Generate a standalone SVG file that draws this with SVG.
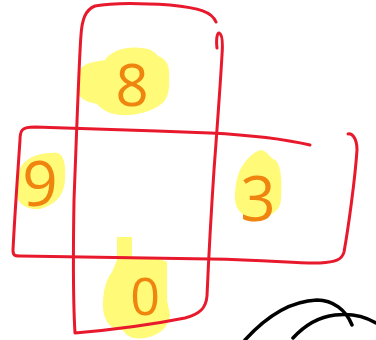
<svg xmlns="http://www.w3.org/2000/svg" width="376" height="340" viewBox="0 0 376 340">
<style>
.hl{fill:#fffa78;stroke:none}
.red{fill:none;stroke:#e8192c;stroke-width:3;stroke-linecap:round;stroke-linejoin:round}
.blk{fill:none;stroke:#000;stroke-width:3.5;stroke-linecap:round}
.dg{fill:#ef850f;font-family:"Open Sans","Liberation Sans",sans-serif;font-weight:400;text-anchor:middle}
</style>
<rect width="376" height="340" fill="#fff"/>
<g id="highlights">
<path class="hl" d="M80,70 C85,62 95,62 105,60 C110,52 125,46 140,48 C150,48 155,52 158,56 C165,58 170,65 169,75 C170,90 168,100 160,105 C150,112 135,116 120,115 C110,114 102,110 97,104 C85,102 77,97 77,88 Z"/>
<path class="hl" d="M22,165 C30,155 45,152 58,153 C64,156 66,165 65,178 C65,195 55,205 40,209 C28,210 18,205 17,195 C16,185 17,172 22,165 Z"/>
<path class="hl" d="M240,170 C245,160 255,150 262,150 C268,152 270,158 275,160 C282,165 282,185 281,200 C280,212 268,218 255,218 C243,218 235,210 235,198 C235,185 237,177 240,170 Z"/>
<path class="hl" d="M117,237 L132,237 L132,258 L158,258 L167,262 L167,300 L170,315 C168,328 160,335 145,338 C132,340 125,335 123,330 C110,330 103,320 103,305 C103,290 106,280 112,272 L117,260 Z"/>
</g>
<g id="connectors">
<path class="red" d="M216,22 C212,12 200,8 170,5 C140,3 110,3 95,6 C85,10 82,20 81,35 C79,60 76,150 74,200 C73,260 73,300 75,333 C110,330 150,325 185,318 C200,314 206,308 207,296 C209,250 212,200 214,170 C217,130 220,90 222,55 C223,42 222,34 219,33 C217,33 216,40 217,48"/>
<path class="red" d="M310,145 C280,138 250,135 210,133 C150,131 80,128 35,127 C22,127 20,130 20,140 C18,170 15,210 13,250 C13,255 14,256 20,256 C80,257 150,258 210,259 C270,260 300,264 320,263 C335,262 342,260 344,252 C348,230 355,180 357,150 C357,138 352,133 348,134"/>
<path class="blk" d="M245,340 C265,318 290,301 317,300 C333,300 346,310 352,325"/>
<path class="blk" d="M293,338 C305,325 318,317 335,315 C352,313 366,317 376,323"/>
</g>
<g id="n8"><text class="dg" x="132" y="106" font-size="58">8</text></g>
<g id="n9"><text class="dg" x="40" y="206" font-size="62">9</text></g>
<g id="n3"><text class="dg" x="258" y="221" font-size="62">3</text></g>
<g id="n0"><text class="dg" x="145" y="315" font-size="52">0</text></g>
</svg>
